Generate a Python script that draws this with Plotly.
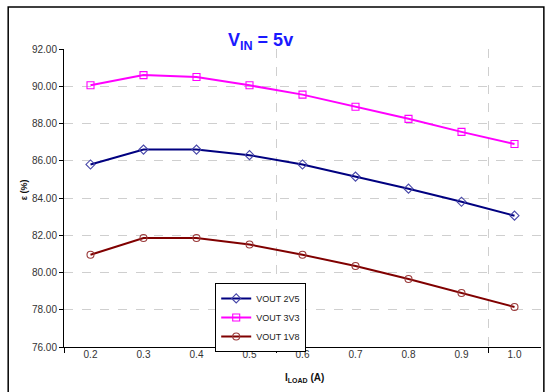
import plotly.graph_objects as go

load_current = [0.2, 0.3, 0.4, 0.5, 0.6, 0.7, 0.8, 0.9, 1.0]
tick_labels = ["0.2", "0.3", "0.4", "0.5", "0.6", "0.7", "0.8", "0.9", "1.0"]
vout_2v5 = [85.8, 86.6, 86.6, 86.3, 85.8, 85.15, 84.5, 83.8, 83.05]
vout_3v3 = [90.05, 90.6, 90.5, 90.05, 89.55, 88.9, 88.25, 87.55, 86.9]
vout_1v8 = [80.95, 81.85, 81.85, 81.5, 80.95, 80.35, 79.65, 78.9, 78.15]
boundary_ticks = [0.15, 0.55, 0.95]
y_ticks = [76, 78, 80, 82, 84, 86, 88, 90, 92]

FONT = "Liberation Sans, Arial, sans-serif"

fig = go.Figure()
series = [
    ("VOUT 2V5", vout_2v5, "#000080", "#4646a8", "diamond-open"),
    ("VOUT 3V3", vout_3v3, "#FF00FF", "#FF00FF", "square-open"),
    ("VOUT 1V8", vout_1v8, "#800000", "#9a3a3a", "circle-open"),
]
for name, vals, col, mcol, sym in series:
    fig.add_trace(go.Scatter(
        x=load_current, y=vals, name=name, mode="lines+markers",
        line=dict(color=col, width=2),
        marker=dict(symbol=sym, size=7, color=mcol, line=dict(width=1.1, color=mcol)),
    ))
# invisible trace to activate the label axis
fig.add_trace(go.Scatter(
    x=load_current, y=vout_2v5, xaxis="x2", mode="markers",
    marker=dict(opacity=0), showlegend=False, hoverinfo="skip",
))

fig.update_layout(
    width=549, height=392,
    margin=dict(l=64, r=8, t=49, b=45),
    paper_bgcolor="white", plot_bgcolor="white",
    font=dict(family=FONT, size=10, color="#222"),
    xaxis=dict(
        range=[0.15, 1.05], tickvals=boundary_ticks, showticklabels=False,
        ticks="outside", ticklen=5, tickcolor="black",
        showline=True, linecolor="black", linewidth=1,
        showgrid=True, gridcolor="#cfcfcf", griddash="dash", gridwidth=1,
        zeroline=False,
    ),
    xaxis2=dict(
        range=[0.15, 1.05], overlaying="x", tickvals=load_current, ticktext=tick_labels,
        ticks="", showgrid=False, zeroline=False, side="bottom", showline=False,
        tickfont=dict(size=10, color="#333"),
    ),
    yaxis=dict(
        range=[76, 92], tickvals=y_ticks, tickformat=".2f",
        ticks="outside", ticklen=4, tickcolor="black",
        showline=True, linecolor="black", linewidth=1,
        showgrid=True, gridcolor="#cfcfcf", griddash="dash", gridwidth=1,
        zeroline=False, tickfont=dict(size=10, color="#333"),
    ),
    legend=dict(
        x=0.317, y=0.215, xanchor="left", yanchor="top",
        bgcolor="white", bordercolor="black", borderwidth=1,
        font=dict(size=9, color="#222"), itemwidth=30,
        tracegroupgap=0,
    ),
    showlegend=True,
)

fig.add_annotation(
    text="<b>V<sub>IN</sub> = 5v</b>", x=0.411, y=1.025, xref="paper", yref="paper",
    showarrow=False, font=dict(size=18, color="#1a1aff", family=FONT), yanchor="middle",
)
fig.add_annotation(
    text="<b>I<sub>LOAD</sub> (A)</b>", x=0.505, y=-0.105, xref="paper", yref="paper",
    showarrow=False, font=dict(size=10, color="#111", family=FONT), yanchor="middle",
)
fig.add_annotation(
    text="<b>ε (%)</b>", x=-0.098, y=0.527, xref="paper", yref="paper",
    showarrow=False, textangle=-90, font=dict(size=9, color="#111", family=FONT),
)
# outer chart frame
fig.add_shape(type="rect", xref="paper", yref="paper",
              x0=-0.117, x1=1.006, y0=-0.3, y1=1.141,
              line=dict(color="black", width=1.5), fillcolor="rgba(0,0,0,0)", layer="above")

fig.write_html("out.html", config={"displayModeBar": False},
               post_script="document.body.style.margin='0';document.body.style.padding='0';")
